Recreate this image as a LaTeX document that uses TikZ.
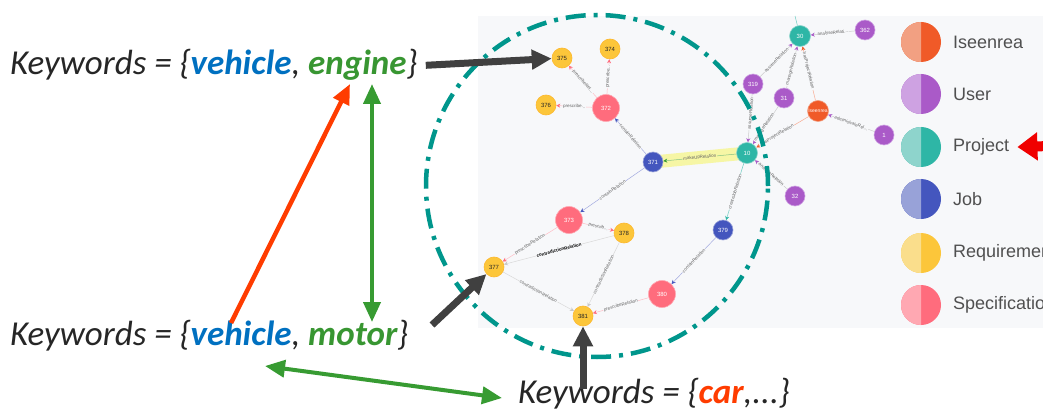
\documentclass[tikz,border=0pt]{standalone}
\usepackage{fontspec}
\setmainfont{Carlito}
\newfontfamily\graphfont{Liberation Sans}
\usepackage{tikz}
\usetikzlibrary{arrows.meta,backgrounds}
\usepackage{xcolor}

\definecolor{kwblack}{RGB}{38,38,38}
\definecolor{kwblue}{RGB}{0,112,192}
\definecolor{kwgreen}{RGB}{56,150,50}
\definecolor{kwred}{RGB}{255,60,0}
\definecolor{ptrgray}{RGB}{64,64,64}
\definecolor{linkgreen}{RGB}{55,155,50}
\definecolor{ringteal}{RGB}{0,150,140}
\definecolor{canvas}{RGB}{247,248,250}
\definecolor{hilite}{RGB}{246,246,165}
\definecolor{pointred}{RGB}{240,0,0}
\definecolor{legtext}{RGB}{80,80,80}
\definecolor{reltext}{RGB}{100,100,100}
\definecolor{reqcol}{RGB}{252,198,58}
\definecolor{reqlight}{RGB}{250,222,140}
\definecolor{speccol}{RGB}{255,108,125}
\definecolor{speclight}{RGB}{255,168,178}
\definecolor{jobcol}{RGB}{68,86,190}
\definecolor{joblight}{RGB}{152,162,216}
\definecolor{projcol}{RGB}{46,182,166}
\definecolor{projlight}{RGB}{142,212,204}
\definecolor{usercol}{RGB}{170,90,200}
\definecolor{userlight}{RGB}{206,162,226}
\definecolor{iseencol}{RGB}{240,90,40}
\definecolor{iseenlight}{RGB}{242,160,130}

\begin{document}
\begin{tikzpicture}[>=stealth, x=1pt, y=-1pt]
    \tikzstyle{entity} = [circle, inner sep=0pt, minimum size=20pt, line width=0.6pt, font=\graphfont\fontsize{6}{7}\selectfont, text=white]
    \tikzstyle{req} = [entity, fill=reqcol, draw=reqcol!80!orange, text=kwblack]
    \tikzstyle{spec} = [entity, fill=speccol, draw=speclight, minimum size=27pt]
    \tikzstyle{job} = [entity, fill=jobcol, draw=joblight]
    \tikzstyle{proj} = [entity, fill=projcol, draw=projlight, minimum size=21pt]
    \tikzstyle{user} = [entity, fill=usercol, draw=userlight]
    \tikzstyle{iseen} = [entity, fill=iseencol, draw=iseenlight, minimum size=21pt, font=\graphfont\fontsize{5}{6}\selectfont]
    \tikzstyle{rel} = [line width=0.5pt]
    \tikzstyle{prescribe} = [rel, draw=speccol!45!white, -{Stealth[length=4pt,width=4pt,color=speccol]}]
    \tikzstyle{contain} = [rel, draw=jobcol!50!white, -{Stealth[length=4pt,width=4pt,color=jobcol]}]
    \tikzstyle{contradict} = [rel, draw=black!15, -{Stealth[length=4pt,width=4pt,color=black!22]}]
    \tikzstyle{userrel} = [rel, draw=black!20, -{Stealth[length=4pt,width=4pt,color=usercol]}]
    \tikzstyle{hasproj} = [rel, draw=iseencol!50!white, -{Stealth[length=4pt,width=4pt,color=iseencol]}]
    \tikzstyle{makeup} = [rel, draw=linkgreen!60!white, -{Stealth[length=4pt,width=4pt,color=linkgreen]}]
    \tikzstyle{createjob} = [rel, draw=projcol!70!white, -{Stealth[length=4pt,width=4pt,color=projcol]}]
    \tikzstyle{tag} = [font=\graphfont\fontsize{4.5}{5}\selectfont, text=reltext, sloped, fill=canvas, inner sep=0.6pt]
    \tikzstyle{kw} = [anchor=base west, inner sep=0pt, text=kwblack, font=\itshape\fontsize{35}{40}\selectfont]
    \tikzstyle{legtag} = [anchor=west, inner sep=0pt, text=legtext, font=\graphfont\fontsize{18}{20}\selectfont]
    \tikzstyle{pointer} = [line width=7pt, draw=ptrgray, -{Triangle[length=20pt,width=19pt]}]
    \tikzstyle{synonym} = [line width=4pt, draw=linkgreen, {Triangle[length=20pt,width=17pt]}-{Triangle[length=20pt,width=17pt]}]
    \tikzstyle{mismatch} = [line width=4.5pt, draw=kwred, -{Triangle[length=20pt,width=17pt]}]
    \tikzstyle{ring} = [line width=4.5pt, draw=ringteal, dash pattern=on 20pt off 8pt on 4pt off 8pt]

    \useasboundingbox (0,0) rectangle (1043,414);
    \clip (0,0) rectangle (1043,414);

    % graph nodes
    \node[req] (req375) at (562,58) {375};
    \node[req] (req374) at (610,49) {374};
    \node[req] (req376) at (546,105) {376};
    \node[spec] (spec372) at (606,108) {372};
    \node[job] (job371) at (653,162) {371};
    \node[proj] (proj10) at (747,153) {10};
    \node[proj] (proj30) at (800,36) {30};
    \node[user] (user362) at (865,30) {362};
    \node[user] (user319) at (753,84) {319};
    \node[user] (user31) at (784,98) {31};
    \node[iseen] (iseen) at (818,111) {Iseenrea};
    \node[user] (user1) at (884,135) {1};
    \node[user] (user32) at (795,196) {32};
    \node[job] (job379) at (723,230) {379};
    \node[spec] (spec380) at (662,294) {380};
    \node[spec] (spec373) at (569,220) {373};
    \node[req] (req378) at (624,233) {378};
    \node[req] (req377) at (494,267) {377};
    \node[req] (req381) at (583,316) {381};
    \coordinate (offtop) at (795,16);

    \begin{scope}[on background layer]
        \fill[canvas] (478,16) rectangle (1043,328);
        \draw[line width=13pt, hilite] (job371.center) -- (proj10.center);
    \end{scope}

    % relations
    \draw[prescribe] (spec372) -- node[tag] {prescribeRel...} (req375);
    \draw[prescribe] (spec372) -- node[tag] {prescribe...} (req374);
    \draw[prescribe] (spec372) -- node[tag] {prescribe...} (req376);
    \draw[contain] (job371) -- node[tag] {containRelation} (spec372);
    \draw[makeup] (proj10) -- node[tag, fill=hilite] {makeUpRelation} (job371);
    \draw[contain] (job371) -- node[tag] {containRelation} (spec373);
    \draw[prescribe] (spec373) -- node[tag] {prescrib...} (req378);
    \draw[prescribe] (spec373) -- node[tag] {prescribeRelation} (req377);
    \draw[contradict] (req378) -- node[tag, text=black, font=\graphfont\bfseries\fontsize{4.5}{5}\selectfont] {contradictionRelation} (req377);
    \draw[contradict] (req377) -- node[tag] {contradictionRelation} (req381);
    \draw[contradict] (req378) -- node[tag] {contradictionRelation} (req381);
    \draw[prescribe] (spec380) -- node[tag] {prescribeRelation} (req381);
    \draw[contain] (job379) -- node[tag] {containRelation} (spec380);
    \draw[createjob] (proj10) -- node[tag] {createJobRelation} (job379);
    \draw[userrel] (user319) -- node[tag] {assumeRelation} (proj30);
    \draw[userrel] (user31) -- node[tag, pos=0.45] {manageRelation} (proj30);
    \draw[hasproj] (iseen) -- node[tag, pos=0.55] {hasProjectRelation} (proj30);
    \draw[userrel] (user362) -- node[tag] {analyseRelati...} (proj30);
    \draw[userrel] (user319) -- node[tag, pos=0.4] {assumeRelation} (proj10);
    \draw[userrel] (user31) -- node[tag, pos=0.55] {manageRelation} (proj10);
    \draw[hasproj] (iseen) -- node[tag, pos=0.6] {hasProjectRelation} (proj10);
    \draw[userrel] (user1) -- node[tag] {administrateRel...} (iseen);
    \draw[userrel] (user32) -- node[tag] {analyseRelation} (proj10);
    \draw[createjob, -] (proj30) -- (offtop);

    % legend
    \foreach \ly/\lname/\ldark/\llight in {42/Iseenrea/iseencol/iseenlight, 94/User/usercol/userlight, 147/Project/projcol/projlight, 199/Job/jobcol/joblight, 253/Requirement/reqcol/reqlight, 305/Specification/speccol/speclight} {
        \fill[\ldark] (921,\ly) circle (20pt);
        \begin{scope}
            \clip ({901},{\ly-21}) rectangle ({921},{\ly+21});
            \fill[\llight] (921,\ly) circle (20pt);
        \end{scope}
        \node[legtag] (leg\lname) at (953,\ly) {\lname};
    }
    \coordinate (projectTail) at (1050,146);
    \draw[line width=10pt, draw=pointred, -{Triangle[length=20pt,width=27pt]}] (projectTail) -- ([xshift=8pt]legProject.east);

    % search region
    \draw[ring] (597,186) circle (171pt);

    % keyword sets
    \node[kw] (kwEngine) at (10,75) {Keywords = \{\textbf{\color{kwblue}vehicle}, \textbf{\color{kwgreen}engine}\}};
    \node[kw] (kwMotor) at (10,345) {Keywords = \{\textbf{\color{kwblue}vehicle}, \textbf{\color{kwgreen}motor}\}};
    \node[kw] (kwCar) at (518,403) {Keywords = \{\textbf{\color{kwred}car},...\}};

    \coordinate (mismatchTail) at (231,323);
    \coordinate (mismatchTip) at (350,84);
    \coordinate (synTop) at (372,84);
    \coordinate (synBottom) at (372,322);
    \coordinate (carLeft) at (265,366);
    \coordinate (carRight) at (502,398);
    \coordinate (motorTail) at (432,325);
    \coordinate (carTail) at (583,389);

    \draw[pointer] ([xshift=8pt]kwEngine.east) -- (req375);
    \draw[pointer] (motorTail) -- (req377);
    \draw[pointer] (carTail) -- (req381);
    \draw[mismatch] (mismatchTail) -- (mismatchTip);
    \draw[synonym] (synTop) -- (synBottom);
    \draw[synonym] (carLeft) -- (carRight);
\end{tikzpicture}
\end{document}
